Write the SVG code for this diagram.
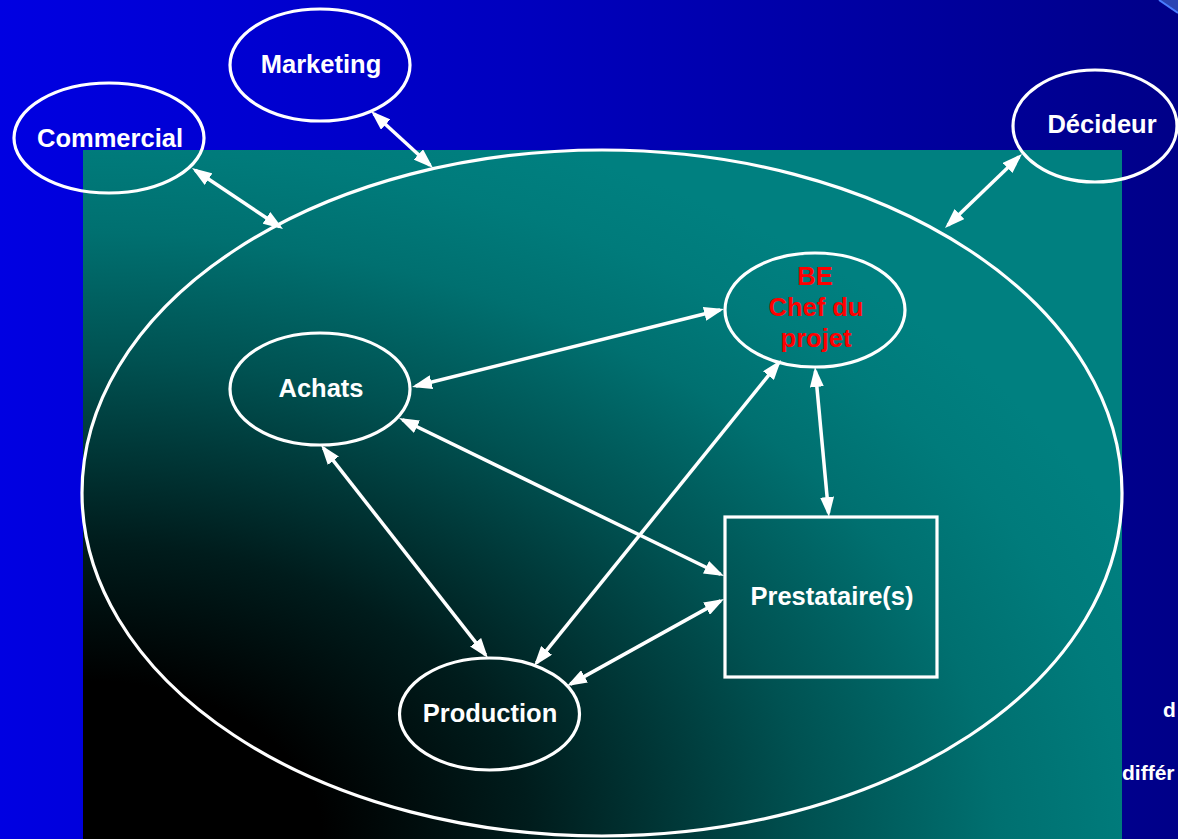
<svg xmlns="http://www.w3.org/2000/svg" width="1178" height="839" viewBox="0 0 1178 839">
<defs>
<linearGradient id="bg" x1="0" y1="0" x2="1178" y2="0" gradientUnits="userSpaceOnUse">
<stop offset="0" stop-color="#0000E2"/>
<stop offset="0.45" stop-color="#0000BE"/>
<stop offset="1" stop-color="#000088"/>
</linearGradient>
<radialGradient id="tealg" cx="83" cy="839" r="1195" gradientUnits="userSpaceOnUse" gradientTransform="translate(83 839) scale(1 0.663) translate(-83 -839)">
<stop offset="0" stop-color="#000000"/>
<stop offset="0.2" stop-color="#000000"/>
<stop offset="0.374" stop-color="#001c1c"/>
<stop offset="0.478" stop-color="#003434"/>
<stop offset="0.609" stop-color="#005252"/>
<stop offset="0.765" stop-color="#007070"/>
<stop offset="0.87" stop-color="#007b7b"/>
<stop offset="0.957" stop-color="#008080"/>
</radialGradient>
<marker id="ah" markerUnits="userSpaceOnUse" viewBox="0 0 20 14" markerWidth="20" markerHeight="14" refX="16" refY="7" orient="auto-start-reverse">
<path d="M0,0 L20,7 L0,14 z" fill="#FFFFFF"/>
</marker>
</defs>
<style>
.node{fill:none;stroke:#FFFFFF;stroke-width:3.2}
.lbl{font-family:"Liberation Sans",Arial,sans-serif;font-weight:bold;font-size:25.5px;fill:#FFFFFF;text-anchor:middle}
.red{fill:#FF0000}
.edge{stroke:#FFFFFF;stroke-width:3.5;fill:none;marker-start:url(#ah);marker-end:url(#ah)}
.side{font-family:"Liberation Sans",Arial,sans-serif;font-weight:bold;font-size:21px;fill:#FFFFFF}
</style>
<rect x="0" y="0" width="1178" height="839" fill="url(#bg)"/>
<polygon points="1159,0 1178,0 1178,13" fill="#2A44B4"/>
<line x1="1159" y1="0" x2="1178" y2="13" stroke="#4A7CFF" stroke-width="2"/>
<text class="side" x="1163" y="717">d</text>
<text class="side" x="1122" y="780">différ</text>
<rect x="83" y="150" width="1039" height="689" fill="url(#tealg)"/>

<g id="organisation">
<ellipse class="node" cx="602" cy="493" rx="520" ry="343"/>
</g>

<g id="connectors">
<line class="edge" x1="373.9" y1="113.7" x2="430.1" y2="165.3"/>
<line class="edge" x1="195.3" y1="170.2" x2="279.7" y2="226.8"/>
<line class="edge" x1="1019.1" y1="156.8" x2="947.9" y2="225.2"/>
<line class="edge" x1="415.9" y1="386.0" x2="720.1" y2="310.0"/>
<line class="edge" x1="402.6" y1="419.7" x2="720.4" y2="574.3"/>
<line class="edge" x1="323.5" y1="448.1" x2="485.5" y2="654.9"/>
<line class="edge" x1="778.5" y1="363.1" x2="536.5" y2="662.9"/>
<line class="edge" x1="815.4" y1="371" x2="828.6" y2="513"/>
<line class="edge" x1="570.5" y1="684.1" x2="720.5" y2="600.9"/>
</g>

<g id="marketing">
<ellipse class="node" cx="320" cy="65" rx="90" ry="56"/>
<text class="lbl" x="321" y="73">Marketing</text>
</g>
<g id="commercial">
<ellipse class="node" cx="109" cy="138" rx="95" ry="55"/>
<text class="lbl" x="110" y="147">Commercial</text>
</g>
<g id="decideur">
<ellipse class="node" cx="1095" cy="126" rx="82" ry="56"/>
<text class="lbl" x="1102" y="133">Décideur</text>
</g>
<g id="be">
<ellipse class="node" cx="815" cy="310" rx="90" ry="57"/>
<text class="lbl red" x="815" y="285">BE</text>
<text class="lbl red" x="816" y="316">Chef du</text>
<text class="lbl red" x="816" y="347">projet</text>
</g>
<g id="achats">
<ellipse class="node" cx="320" cy="389" rx="90" ry="56"/>
<text class="lbl" x="321" y="397">Achats</text>
</g>
<g id="production">
<ellipse class="node" cx="489.5" cy="714" rx="90" ry="56"/>
<text class="lbl" x="490" y="722">Production</text>
</g>
<g id="prestataires">
<rect class="node" x="725" y="517" width="212" height="160"/>
<text class="lbl" x="832" y="605">Prestataire(s)</text>
</g>
</svg>
